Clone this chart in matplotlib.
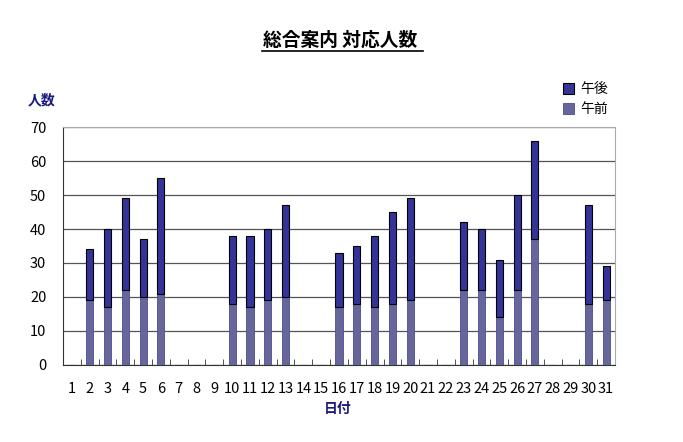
import numpy as np
import matplotlib
matplotlib.use('Agg')
import matplotlib.pyplot as plt
from matplotlib.lines import Line2D

plt.rcParams['font.family'] = ['Noto Sans CJK JP', 'DejaVu Sans']

# 日付 1..31
days = list(range(1, 32))
# 午前 / 合計 (0 = 休み)
am = [0, 19, 17, 22, 20, 21, 0, 0, 0, 18, 17, 19, 20, 0, 0, 17, 18, 17, 18, 19,
      0, 0, 22, 22, 14, 22, 37, 0, 0, 18, 19]
total = [0, 34, 40, 49, 37, 55, 0, 0, 0, 38, 38, 40, 47, 0, 0, 33, 35, 38, 45, 49,
         0, 0, 42, 40, 31, 50, 66, 0, 0, 47, 29]
pm = [t - a for t, a in zip(total, am)]

fig = plt.figure(figsize=(6.83, 4.42), dpi=100)
ax = fig.add_axes([63 / 683, 77 / 442, 552 / 683, 238 / 442])

x = np.arange(len(days))
w = 0.4
ax.bar(x, am, w, color='#666699', edgecolor='#4b4b9a', linewidth=0.6, label='午前', zorder=3)
ax.bar(x, pm, w, bottom=am, color='#333399', edgecolor='black', linewidth=0.8, label='午後', zorder=3)

ax.set_xlim(-0.5, len(days) - 0.5)
ax.set_ylim(0, 70)
ax.set_yticks(range(0, 71, 10))
ax.yaxis.grid(True, color='#555555', linewidth=0.9, zorder=0)
ax.set_axisbelow(True)
ax.tick_params(axis='y', length=0, labelsize=10.5, pad=12)

ax.set_xticks(x)
ax.set_xticklabels([str(d) for d in days], fontsize=10.5)
ax.tick_params(axis='x', which='major', length=0, pad=12)
ax.set_xticks(np.arange(0.5, len(days) - 0.5, 1), minor=True)
ax.tick_params(axis='x', which='minor', direction='in', length=4, color='#333333')

for s in ['top', 'right']:
    ax.spines[s].set_color('#aaaaaa')
    ax.spines[s].set_linewidth(0.8)
ax.spines['left'].set_color('#333333')
ax.spines['bottom'].set_color('#333333')

fig.text(0.498, 0.910, '総合案内 対応人数', ha='center', va='center', fontsize=13.5,
         fontweight='bold')
fig.add_artist(Line2D([262 / 683, 423 / 683], [1 - 51 / 442, 1 - 51 / 442],
                      color='black', linewidth=1.2))
fig.text(28 / 683, 1 - 100 / 442, '人数', ha='left', va='center', fontsize=10,
         color='#1a1a80', fontweight='bold')
fig.text(338 / 683, 1 - 409 / 442, '日付', ha='center', va='center', fontsize=10,
         color='#1a1a80', fontweight='bold')

h, l = ax.get_legend_handles_labels()
ax.legend(h[::-1], l[::-1], loc='upper left', bbox_to_anchor=(550 / 683, 1 - 70 / 442),
          bbox_transform=fig.transFigure, frameon=False, fontsize=10,
          handlelength=0.8, handleheight=0.8, handletextpad=0.5, labelspacing=0.4)

fig.savefig('out.png', dpi=100)
